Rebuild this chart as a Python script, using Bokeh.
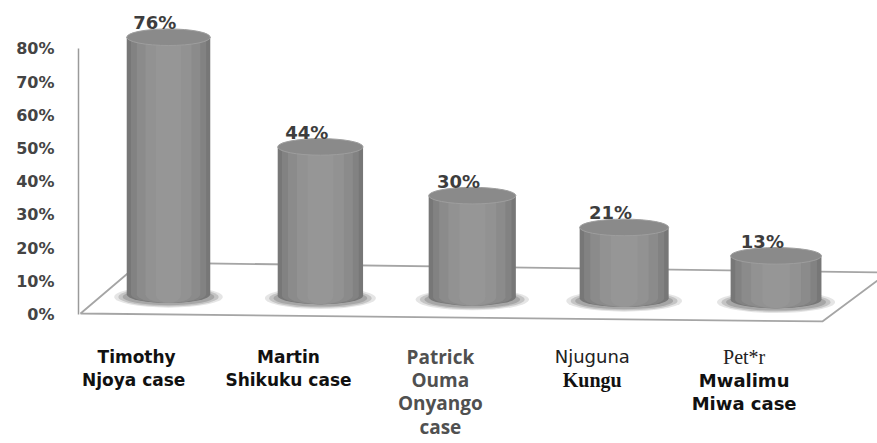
from bokeh.plotting import figure
from bokeh.models import ColumnDataSource, LinearAxis, FixedTicker, PrintfTickFormatter, Range1d
from bokeh.core.properties import value, field
from bokeh.embed import file_html
from bokeh.resources import INLINE

# ---------------- data ----------------
categories = ["Timothy Njoya case", "Martin Shikuku case", "Patrick Ouma Onyango case",
              "Njuguna Kungu", "Pet*r Mwalimu Miwa case"]
values = [76, 44, 30, 21, 13]
label_lines = [["Timothy", "Njoya  case"],
               ["Martin", "Shikuku case"],
               ["Patrick", "Ouma", "Onyango", "case"],
               ["Njuguna", "Kungu"],
               ["Pet*r", "Mwalimu", "Miwa case"]]
label_styles = [["sans_bold", "sans_bold"],
                ["sans_bold", "sans_bold"],
                ["round_bold", "round_bold", "round_bold", "round_bold"],
                ["light", "serif_bold"],
                ["serif", "wide_bold", "wide_bold"]]
y_ticks = [0, 10, 20, 30, 40, 50, 60, 70, 80]

# ---------------- styling / layout ----------------
STYLES = {
    "sans_bold":  ("DejaVu Sans", "17px", "bold", "#111111"),
    "round_bold": ("Open Sans", "19px", "bold", "#505050"),
    "light":      ("DejaVu Sans", "18px", "normal", "#222222"),
    "serif_bold": ("Liberation Serif", "20px", "bold", "#111111"),
    "serif":      ("Liberation Serif", "20px", "normal", "#222222"),
    "wide_bold":  ("DejaVu Sans", "18px", "bold", "#111111"),
}
W, H = 877, 443
BASE0, BASE_TILT = 6.0, 0.4
HEIGHT_SCALE = 1.02
ELL_H = 5.0
LABEL_DX = -0.21
LABEL_Y0 = -12.8     # first line baseline (data units)
LINE_STEP = 7.0      # line spacing (data units)

n = len(values)
xs = list(range(n))
bases = [BASE0 - BASE_TILT * i for i in xs]
tops = [b + v * HEIGHT_SCALE for b, v in zip(bases, values)]
widths = [0.55 + 0.012 * i for i in xs]

src = ColumnDataSource(dict(x=xs, base=bases, top=tops, w=widths,
                            vx=[x - 0.09 for x in xs],
                            vy=[t + 4.4 for t in tops],
                            vt=[f"{v}%" for v in values]))

p = figure(width=W, height=H, output_backend="svg", toolbar_location=None,
           x_axis_type=None, y_axis_type=None,
           x_range=Range1d(-0.5925, 4.668), y_range=Range1d(-38.86, 94.58),
           min_border_left=78, min_border_right=0, min_border_top=0, min_border_bottom=0)
p.outline_line_color = None
p.background_fill_color = "white"
p.border_fill_color = "white"

# y axis
yaxis = LinearAxis(ticker=FixedTicker(ticks=y_ticks),
                   formatter=PrintfTickFormatter(format="%d%%"), bounds=(0, 80))
yaxis.major_tick_line_color = None
yaxis.minor_tick_line_color = None
yaxis.major_tick_out = 0
yaxis.major_tick_in = 0
yaxis.axis_line_color = "#9a9a9a"
yaxis.axis_line_width = 1.5
yaxis.major_label_text_font = "DejaVu Sans"
yaxis.major_label_text_font_style = "bold"
yaxis.major_label_text_font_size = "16px"
yaxis.major_label_text_color = "#444444"
yaxis.major_label_standoff = 24
p.add_layout(yaxis, "left")

# floor (3D base plane)
fl_x = [-0.579, -0.184, 4.74, 4.305]
fl_y = [0.3, 15.66, 12.65, -2.1]
p.patch(fl_x, fl_y, fill_color="white", line_color="#a5a5a5", line_width=1.8)

# shadows at the foot of each cylinder
for f, h, a in [(1.3, 6.5, 0.18), (1.2, 5.8, 0.28), (1.1, 5.0, 0.35)]:
    s2 = ColumnDataSource(dict(x=xs, y=[b - 0.7 for b in bases], w=[w * f for w in widths]))
    p.ellipse(x="x", y="y", width="w", height=h, source=s2,
              fill_color="#6f6f6f", fill_alpha=a, line_color=None)

# cylinder bodies (nested shades give a rounded look)
for f, c in [(1.0, "#777777"), (0.9, "#828282"), (0.76, "#8b8b8b"), (0.55, "#929292"), (0.3, "#969696")]:
    s3 = ColumnDataSource(dict(x=xs, base=bases, top=tops, w=[w * f for w in widths]))
    p.ellipse(x="x", y="base", width="w", height=ELL_H, source=s3,
              fill_color=c, line_color=None)
    p.vbar(x="x", width="w", bottom="base", top="top", source=s3,
           fill_color=c, line_color=None)

# cylinder tops
p.ellipse(x="x", y="top", width="w", height=ELL_H, source=src,
          fill_color="#8a8a8a", line_color="#9e9e9e", line_width=1)

# value labels
p.text(x="vx", y="vy", text="vt", source=src, text_font=value("DejaVu Sans"),
       text_font_style="bold", text_font_size="18px", text_color="#3d3d3d",
       text_align="center", text_baseline="middle")

# category labels
lx, ly, lt, lf, ls, lst, lc = [], [], [], [], [], [], []
for i, (lines, styles) in enumerate(zip(label_lines, label_styles)):
    for k, (t, s) in enumerate(zip(lines, styles)):
        font, size, style, color = STYLES[s]
        lx.append(i + LABEL_DX)
        ly.append(LABEL_Y0 - k * LINE_STEP)
        lt.append(t)
        lf.append(font)
        ls.append(size)
        lst.append(style)
        lc.append(color)
lsrc = ColumnDataSource(dict(x=lx, y=ly, text=lt, font=lf, size=ls, style=lst, color=lc))
p.text(x="x", y="y", text="text", source=lsrc, text_font=field("font"),
       text_font_size=field("size"), text_font_style=field("style"),
       text_color=field("color"), text_align="center", text_baseline="alphabetic")

open("out.html", "w").write(file_html(p, INLINE))
